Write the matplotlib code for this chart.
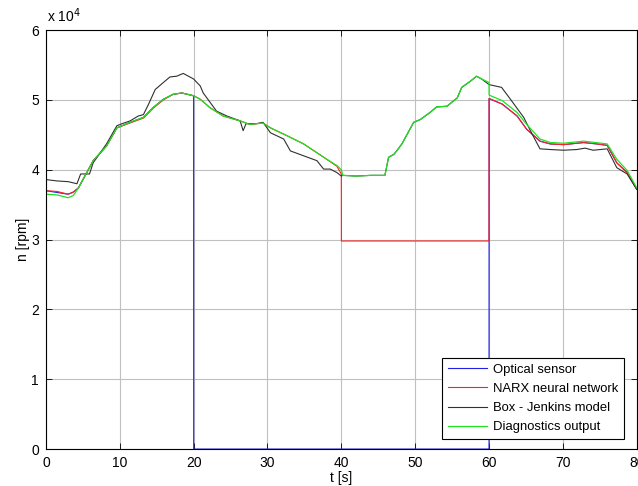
import matplotlib.pyplot as plt
from matplotlib.ticker import FuncFormatter

plt.rcParams['font.family'] = ['Liberation Sans', 'DejaVu Sans']

# speed values in units of 1e4 rpm
t_sensor = [0, 3.0, 3.7, 4.4, 6.4, 8.2, 9.6, 11.4, 13.2, 14.5, 15.9, 17.2, 18.4, 20, 20.01, 60, 60.01,
            61.8, 63.8, 65.1, 66.9, 68.3, 70.1, 72.8, 74.6, 76.0, 77.3, 78.7, 80]
n_sensor = [3.70, 3.65, 3.68, 3.74, 4.13, 4.34, 4.60, 4.68, 4.75, 4.89, 5.01, 5.08, 5.10, 5.06, 0, 0, 5.02,
            4.94, 4.77, 4.58, 4.41, 4.37, 4.36, 4.39, 4.37, 4.35, 4.10, 3.96, 3.72]

t_narx = [0, 1.5, 3.0, 3.7, 4.4, 6.4, 8.2, 9.6, 11.4, 13.2, 14.5, 15.9, 17.2, 18.4, 20, 20.9, 22.2, 24.0,
          26.3, 27.6, 29.4, 30.4, 32.6, 34.9, 37.6, 39.4, 40, 40.01, 60, 60.01,
          61.8, 63.8, 65.1, 66.9, 68.3, 70.1, 72.8, 74.6, 76.0, 77.3, 78.7, 80]
n_narx = [3.70, 3.69, 3.65, 3.68, 3.74, 4.13, 4.34, 4.60, 4.67, 4.74, 4.88, 5.00, 5.08, 5.10, 5.06, 5.01, 4.89, 4.77,
          4.70, 4.65, 4.67, 4.60, 4.49, 4.37, 4.18, 4.05, 3.94, 2.98, 2.98, 5.02,
          4.94, 4.77, 4.58, 4.41, 4.37, 4.36, 4.39, 4.37, 4.35, 4.10, 3.96, 3.72]

t_box = [0, 1.5, 3.0, 4.2, 4.7, 5.9, 6.4, 8.2, 9.6, 10.3, 11.4, 12.5, 13.2, 13.9, 14.8, 15.9, 16.8, 17.7,
         18.6, 20, 20.9, 21.3, 23.1, 24.5, 26.3, 26.7, 27.1, 28.5, 29.4, 30.4, 32.2, 33.1, 34.9, 36.7,
         37.6, 38.5, 39.4, 40, 40.2, 42, 44, 45.9, 46.4, 47.1, 47.5, 48.2, 49.8, 50.7, 52.0, 52.9, 54.3,
         55.7, 56.3, 57.5, 58.3, 59.0, 60.0, 61.7, 62.9, 64.7, 65.6, 66.9, 68.3, 70.1, 71.9, 73.0, 74.1,
         76.0, 77.3, 78.7, 80]
n_box = [3.86, 3.84, 3.83, 3.80, 3.94, 3.94, 4.10, 4.37, 4.63, 4.66, 4.70, 4.77, 4.79, 4.94, 5.15, 5.25, 5.33, 5.34,
         5.38, 5.30, 5.20, 5.10, 4.84, 4.77, 4.70, 4.56, 4.66, 4.66, 4.68, 4.53, 4.44, 4.27, 4.20, 4.13,
         4.01, 4.01, 3.96, 3.91, 3.92, 3.91, 3.92, 3.92, 4.18, 4.22, 4.27, 4.37, 4.68, 4.72, 4.82, 4.90, 4.91,
         5.03, 5.18, 5.27, 5.34, 5.30, 5.22, 5.18, 5.01, 4.75, 4.56, 4.30, 4.29, 4.28, 4.29, 4.31, 4.28,
         4.30, 4.03, 3.94, 3.72]

t_diag = [0, 1.5, 3.0, 3.7, 4.4, 6.4, 8.2, 9.6, 11.4, 13.2, 14.5, 15.9, 17.2, 18.4, 20, 20.9, 22.2, 24.0,
          26.3, 27.6, 29.4, 30.4, 32.6, 34.9, 37.6, 39.4, 40, 40.2, 42, 44, 45.9, 46.4, 47.1, 47.5, 48.2,
          49.8, 50.7, 52.0, 52.9, 54.3, 55.7, 56.3, 57.5, 58.3, 59.0, 60.0, 60.01, 61.8, 63.8, 65.1,
          66.9, 68.3, 70.1, 72.8, 76.0, 77.3, 78.7, 80]
n_diag = [3.65, 3.64, 3.60, 3.63, 3.74, 4.13, 4.34, 4.60, 4.68, 4.75, 4.89, 5.01, 5.08, 5.10, 5.06, 5.01, 4.89, 4.77,
          4.70, 4.65, 4.67, 4.60, 4.49, 4.37, 4.18, 4.06, 4.00, 3.92, 3.91, 3.92, 3.92, 4.18, 4.22, 4.27, 4.37,
          4.68, 4.72, 4.82, 4.90, 4.91, 5.03, 5.18, 5.27, 5.34, 5.30, 5.25, 5.07, 4.99, 4.82, 4.65,
          4.44, 4.39, 4.38, 4.41, 4.37, 4.15, 3.99, 3.74]

fig = plt.figure(figsize=(6.38, 4.86), dpi=100)
ax = fig.add_axes([0.072, 0.076, 0.926, 0.862])

ax.plot(t_sensor, [v * 1e4 for v in n_sensor], color="#2020e0", lw=0.8, label="Optical sensor")
ax.plot(t_narx, [v * 1e4 for v in n_narx], color="#ff2020", lw=0.8, label="NARX neural network")
ax.plot(t_box, [v * 1e4 for v in n_box], color="#303030", lw=0.8, label="Box - Jenkins model")
ax.plot(t_diag, [v * 1e4 for v in n_diag], color="#20e020", lw=0.9, label="Diagnostics output")

ax.set_xlim(0, 80)
ax.set_ylim(0, 60000)
ax.set_xticks(range(0, 81, 10))
ax.set_yticks(range(0, 60001, 10000))
ax.yaxis.set_major_formatter(FuncFormatter(lambda v, p: "%d" % round(v / 1e4)))
ax.tick_params(direction="in", top=True, right=True, length=4, width=0.6, labelsize=10, pad=5)
ax.grid(True, color="#c0c0c0", lw=0.8)
for s in ax.spines.values():
    s.set_linewidth(0.8)

fig.text(0.074, 0.948, r"x 10$^4$", fontsize=10, ha="left", va="bottom")
ax.set_xlabel("t [s]", fontsize=10, labelpad=1)
ax.set_ylabel("n [rpm]", fontsize=10, labelpad=1)

leg = ax.legend(loc="lower right", bbox_to_anchor=(0.978, 0.024), borderaxespad=0, fontsize=9.4,
                fancybox=False, framealpha=1, edgecolor="black", handlelength=3.0, borderpad=0.45,
                labelspacing=0.53, handletextpad=0.4)
leg.get_frame().set_linewidth(0.8)

plt.savefig("out.png")
